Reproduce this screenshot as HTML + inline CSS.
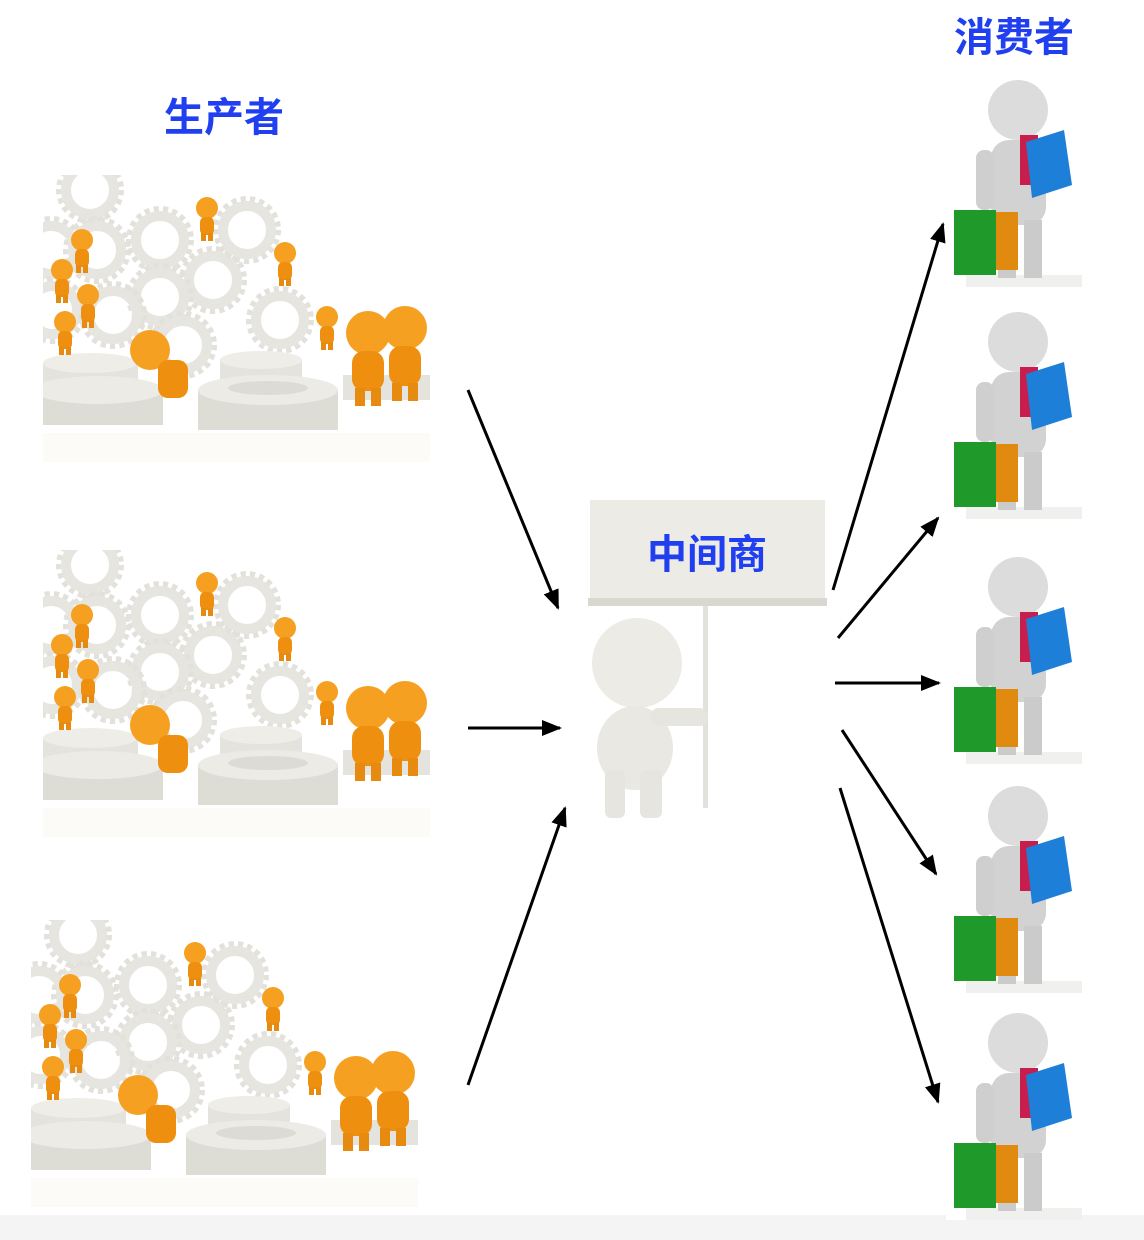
<!DOCTYPE html>
<html><head><meta charset="utf-8"><style>
html,body{margin:0;padding:0;background:#fff;}
body{width:1144px;height:1240px;position:relative;overflow:hidden;font-family:"Liberation Sans","Noto Sans CJK SC",sans-serif;}
.t{position:absolute;color:#1f3ff0;font-weight:bold;font-size:40px;line-height:42px;font-family:"Liberation Sans","Noto Sans CJK SC",sans-serif;}
</style></head><body>
<svg width="1144" height="1240" style="position:absolute;left:0;top:0">
<defs>
<clipPath id="pc"><rect x="0" y="0" width="387" height="287"/></clipPath>
<g id="gear">
 <circle r="30" fill="none" stroke="#e2e1dc" stroke-width="8" stroke-dasharray="5 4"/>
 <circle r="24" fill="none" stroke="#e6e5e0" stroke-width="10"/>
</g>
<g id="of">
 <circle r="11" fill="#f5a020"/>
 <rect x="-7" y="9" width="14" height="18" rx="5" fill="#ee8f10"/>
 <rect x="-6" y="25" width="5" height="8" fill="#e68a10"/><rect x="1" y="25" width="5" height="8" fill="#e68a10"/>
</g>
<g id="big">
 <circle r="22" fill="#f5a020"/>
 <rect x="-16" y="18" width="32" height="40" rx="12" fill="#ee8f10"/>
 <rect x="-13" y="55" width="10" height="18" fill="#e68a10"/><rect x="3" y="55" width="10" height="18" fill="#e68a10"/>
</g>
<g id="prod"><g clip-path="url(#pc)">
 <use href="#gear" x="47" y="15"/>
 <use href="#gear" x="54" y="75"/>
 <use href="#gear" x="8" y="75"/>
 <use href="#gear" x="10" y="135"/>
 <use href="#gear" x="117" y="65"/>
 <use href="#gear" x="170" y="105"/>
 <use href="#gear" x="117" y="122"/>
 <use href="#gear" x="204" y="55"/>
 <use href="#gear" x="237" y="145"/>
 <use href="#gear" x="70" y="140"/>
 <use href="#gear" x="140" y="170"/>
 <rect x="0" y="188" width="95" height="25" fill="#e4e3dd"/><ellipse cx="47" cy="188" rx="47" ry="10" fill="#eeede8"/>
 <rect x="177" y="185" width="82" height="22" fill="#e4e3dd"/><ellipse cx="218" cy="185" rx="41" ry="9" fill="#eeede8"/>
 <rect x="0" y="215" width="120" height="35" fill="#dddcd5"/><ellipse cx="55" cy="215" rx="65" ry="14" fill="#ecebe6"/>
 <rect x="155" y="215" width="140" height="40" fill="#dddcd5"/><ellipse cx="225" cy="215" rx="70" ry="15" fill="#ecebe6"/><ellipse cx="225" cy="213" rx="40" ry="7" fill="#dcdbd4"/>
 <rect x="300" y="200" width="87" height="25" fill="#e4e3dd"/>
 <use href="#of" x="164" y="33"/>
 <use href="#of" x="39" y="65"/>
 <use href="#of" x="19" y="95"/>
 <use href="#of" x="45" y="120"/>
 <use href="#of" x="22" y="147"/>
 <use href="#of" x="242" y="78"/>
 <use href="#of" x="284" y="142"/>
 <circle cx="107" cy="175" r="20" fill="#f5a020"/>
 <rect x="115" y="185" width="30" height="38" rx="10" fill="#ee8f10"/>
 <use href="#big" x="325" y="158"/>
 <use href="#big" x="362" y="153"/>
 <rect x="0" y="258" width="387" height="29" fill="#fcfbf8"/>
</g></g>
<g id="cons">
 <rect x="0" y="0" width="136" height="207" fill="#fff"/>
 <rect x="20" y="195" width="116" height="12" fill="#f0f0ee"/>
 <circle cx="72" cy="30" r="30" fill="#dcdcdc"/>
 <rect x="45" y="60" width="55" height="85" rx="18" fill="#d2d2d2"/>
 <rect x="30" y="70" width="18" height="60" rx="8" fill="#cfcfcf"/>
 <rect x="52" y="140" width="18" height="58" fill="#cbcbcb"/>
 <rect x="78" y="140" width="18" height="58" fill="#cbcbcb"/>
 <rect x="74" y="55" width="18" height="50" fill="#c81e4e"/>
 <polygon points="80,62 118,50 126,105 86,118" fill="#1e7fd8"/>
 <rect x="8" y="130" width="42" height="65" fill="#1f9a2a"/>
 <rect x="50" y="132" width="22" height="58" fill="#e08a10"/>
</g>
<marker id="ah" markerWidth="20" markerHeight="16" refX="18" refY="8" orient="auto" markerUnits="userSpaceOnUse" viewBox="0 0 20 16"><path d="M0,0 L20,8 L0,16 z" fill="#000"/></marker>
</defs>
<rect x="0" y="1215" width="1144" height="25" fill="#f4f4f4"/>
<use href="#prod" x="43" y="175"/>
<use href="#prod" x="43" y="550"/>
<use href="#prod" x="31" y="920"/>
<use href="#cons" x="946" y="80"/>
<use href="#cons" x="946" y="312"/>
<use href="#cons" x="946" y="557"/>
<use href="#cons" x="946" y="786"/>
<use href="#cons" x="946" y="1013"/>
<rect x="703" y="600" width="5" height="208" fill="#e2e1dc"/>
<rect x="590" y="500" width="235" height="102" fill="#ecebe6"/>
<rect x="588" y="598" width="239" height="8" fill="#d8d7d0"/>
<circle cx="637" cy="663" r="45" fill="#ecebe6"/>
<ellipse cx="635" cy="748" rx="38" ry="42" fill="#e9e8e3"/>
<rect x="650" y="708" width="58" height="18" rx="9" fill="#e6e5e0"/>
<rect x="605" y="770" width="20" height="48" rx="6" fill="#e6e5e0"/>
<rect x="640" y="770" width="22" height="48" rx="6" fill="#e6e5e0"/>
<g stroke="#000" stroke-width="3" marker-end="url(#ah)" fill="none">
<line x1="468" y1="390" x2="558" y2="608"/>
<line x1="468" y1="728" x2="560" y2="728"/>
<line x1="468" y1="1085" x2="565" y2="808"/>
<line x1="833" y1="590" x2="943" y2="224"/>
<line x1="838" y1="638" x2="938" y2="518"/>
<line x1="835" y1="683" x2="939" y2="683"/>
<line x1="842" y1="730" x2="936" y2="874"/>
<line x1="840" y1="788" x2="938" y2="1102"/>
</g>
</svg>
<div class="t" style="left:164px;top:97px">生产者</div>
<div class="t" style="left:954px;top:17px">消费者</div>
<div class="t" style="left:647px;top:534px">中间商</div>
</body></html>
